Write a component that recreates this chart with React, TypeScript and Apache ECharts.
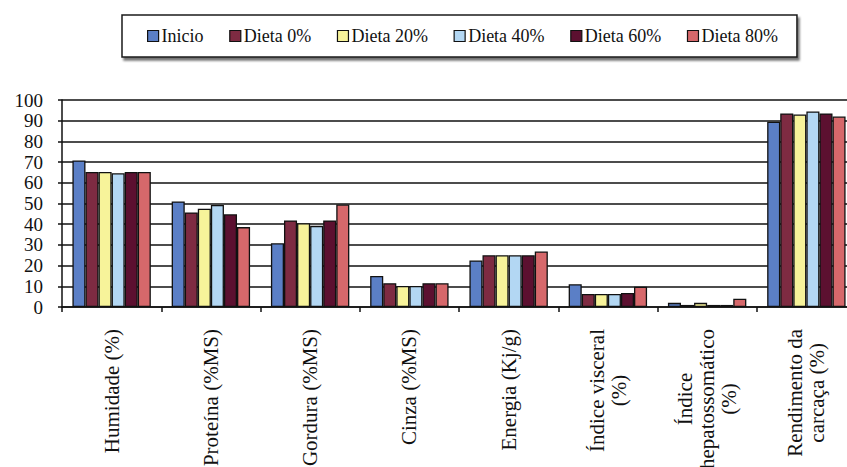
import React, { useEffect, useRef } from "react";
import * as echarts from "echarts";

const categories = [
  "Humidade (%)",
  "Proteína (%MS)",
  "Gordura (%MS)",
  "Cinza (%MS)",
  "Energia (Kj/g)",
  "Índice visceral\n(%)",
  "Índice\nhepatossomático\n(%)",
  "Rendimento da\ncarcaça (%)",
];

const seriesNames = ["Inicio", "Dieta 0%", "Dieta 20%", "Dieta 40%", "Dieta 60%", "Dieta 80%"];

const inicio = [70.8, 51, 30.8, 15, 22.5, 11, 2, 89.5];
const dieta0 = [65.2, 45.7, 41.8, 11.5, 25, 6.3, 1, 93.5];
const dieta20 = [65.2, 47.5, 40.5, 10.2, 25, 6.3, 2, 93];
const dieta40 = [64.6, 49.3, 39.2, 10.2, 25, 6.3, 1, 94.5];
const dieta60 = [65.2, 44.8, 41.8, 11.5, 25, 6.8, 1, 93.5];
const dieta80 = [65.2, 38.6, 49.5, 11.5, 26.8, 9.8, 4, 92];

const seriesValues = [inicio, dieta0, dieta20, dieta40, dieta60, dieta80];

const colors = ["#5B7FC6", "#7E2B42", "#F7F39A", "#B3D7F3", "#5C1030", "#D6686B"];

const yTicks = { min: 0, max: 100, interval: 10 };

const FONT = "Liberation Serif, Times New Roman, serif";

export default function App() {
  const ref = useRef<HTMLDivElement>(null);

  useEffect(() => {
    if (!ref.current) return;
    const chart = echarts.init(ref.current, null, { renderer: "svg" });
    chart.setOption({
      animation: false,
      backgroundColor: "#ffffff",
      textStyle: { fontFamily: FONT },
      legend: {
        left: 122,
        top: 15,
        padding: [12, 19, 12, 25],
        itemGap: 25.6,
        itemWidth: 11,
        itemHeight: 11,
        icon: "rect",
        backgroundColor: "#ffffff",
        borderColor: "#1a1a1a",
        borderWidth: 1.5,
        shadowColor: "rgba(0,0,0,0.55)",
        shadowBlur: 2,
        shadowOffsetX: 2,
        shadowOffsetY: 3,
        itemStyle: { borderColor: "#111", borderWidth: 1.2 },
        textStyle: { fontFamily: FONT, fontSize: 18, color: "#111", padding: [0, 0, 0, -2] },
        data: seriesNames,
      },
      grid: {
        left: 62,
        top: 100,
        right: -9,
        bottom: 160,
        containLabel: false,
        outerBoundsMode: "none",
      },
      xAxis: {
        type: "category",
        data: categories,
        axisLine: { lineStyle: { color: "#111", width: 1.5 } },
        axisTick: { show: true, length: 5, lineStyle: { color: "#111", width: 1.5 } },
        axisLabel: {
          interval: 0,
          rotate: 90,
          margin: 22,
          color: "#111",
          fontFamily: FONT,
          fontSize: 21,
          lineHeight: 22,
          formatter: (v: string) =>
            v
              .split("\n")
              .map((l) => `{c|${l}}`)
              .join("\n"),
          rich: {
            c: { align: "center", fontFamily: FONT, fontSize: 21, lineHeight: 22, color: "#111" },
          },
        },
      },
      yAxis: {
        type: "value",
        min: yTicks.min,
        max: yTicks.max,
        interval: yTicks.interval,
        axisLine: { show: true, lineStyle: { color: "#111", width: 1.5 } },
        axisTick: { show: true, length: 4, lineStyle: { color: "#111", width: 1.5 } },
        axisLabel: { color: "#111", fontFamily: FONT, fontSize: 19, margin: 19 },
        splitLine: { show: true, lineStyle: { color: "#111", width: 1.6 } },
      },
      series: seriesNames.map((name, i) => ({
        name,
        type: "bar",
        data: seriesValues[i],
        barGap: "0%",
        barCategoryGap: "21%",
        itemStyle: { color: colors[i], borderColor: "#111", borderWidth: 1.3 },
      })),
    });
    return () => chart.dispose();
  }, []);

  return (
    <div
      ref={ref}
      style={{ position: "fixed", left: 0, top: 0, width: 847, height: 467, background: "#fff" }}
    />
  );
}
